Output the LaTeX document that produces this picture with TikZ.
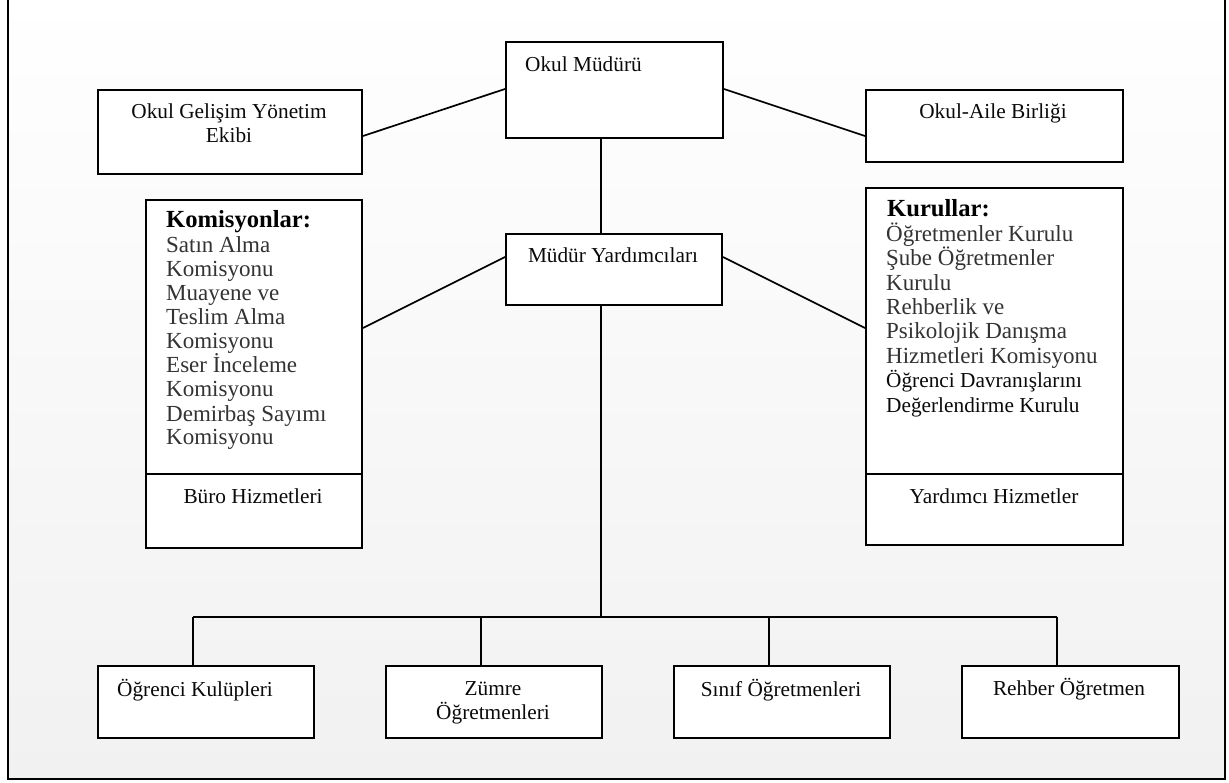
\documentclass[tikz,border=0pt]{standalone}
\usepackage{fontspec}
\setmainfont{Liberation Serif}
\usetikzlibrary{calc}
\definecolor{geogray}{HTML}{333333}
\definecolor{bglow}{HTML}{F1F1F1}
\definecolor{ink}{HTML}{0A0A0A}
\newcommand\tnrfont{\fontsize{21.3}{25}\selectfont}
\newcommand\georfont{\fontsize{23}{25}\selectfont}
\newcommand\geobfont{\fontsize{24.6}{27}\selectfont\bfseries}
\begin{document}
\begin{tikzpicture}[x=1pt,y=-1pt,
  box/.style={draw=black, line width=2pt, fill=white, inner sep=0pt, anchor=north west},
  link/.style={draw=black, line width=1.7pt},
  txt/.style={inner sep=0pt, font=\tnrfont, text=ink},
  gtxt/.style={inner sep=0pt, font=\georfont, text=geogray},
  gbold/.style={inner sep=0pt, font=\geobfont, text=black}]
\useasboundingbox (0,0) rectangle (1229,783);
% background and frame
\shade[top color=white, bottom color=bglow] (8,-10) rectangle (1225,779);
\draw[line width=2.4pt] (8,-10) -- (8,779) -- (1225,779) -- (1225,-10);

% boxes
\node[box, minimum width=217pt, minimum height=96pt] (om) at (505,41) {};
\node[box, minimum width=264pt, minimum height=84pt] (ogye) at (97,89) {};
\node[box, minimum width=257pt, minimum height=72pt] (oab) at (865,89) {};
\node[box, minimum width=216pt, minimum height=71pt] (my) at (505,233) {};
\node[box, minimum width=216pt, minimum height=274pt] (kom) at (145,199) {};
\node[box, minimum width=216pt, minimum height=74pt] (buro) at (145,473) {};
\node[box, minimum width=257pt, minimum height=286pt] (kur) at (865,187) {};
\node[box, minimum width=257pt, minimum height=71pt] (yh) at (865,473) {};
\node[box, minimum width=216pt, minimum height=72pt] (ok) at (97,665) {};
\node[box, minimum width=216pt, minimum height=72pt] (zo) at (385,665) {};
\node[box, minimum width=216pt, minimum height=72pt] (so) at (673,665) {};
\node[box, minimum width=217pt, minimum height=72pt] (ro) at (961,665) {};

% connector coordinates
\coordinate (tk) at (601,0);
\coordinate (bar) at (601,617);
\coordinate (d1) at (193,617);
\coordinate (d2) at (481,617);
\coordinate (d3) at (769,617);
\coordinate (d4) at (1057,617);

% connectors
\draw[link] ($(om.north west)+(0,48)$) -- ($(ogye.north east)+(0,47)$);
\draw[link] ($(om.north east)+(0,48)$) -- ($(oab.north west)+(0,47)$);
\draw[link] (om.south -| tk) -- (my.north -| tk);
\draw[link] ($(my.north west)+(0,24)$) -- ($(kom.north east)+(0,129)$);
\draw[link] ($(my.north east)+(0,24)$) -- ($(kur.north west)+(0,141)$);
\draw[link] (my.south -| tk) -- (bar);
\draw[link] (d1) -- (d4);
\draw[link] (d1) -- (ok.north -| d1);
\draw[link] (d2) -- (zo.north -| d2);
\draw[link] (d3) -- (so.north -| d3);
\draw[link] (d4) -- (ro.north -| d4);

% texts
\node[txt, anchor=base west] (tom) at (525,72) {Okul Müdürü};
\node[txt, anchor=base] (tg1) at (229,119) {Okul Gelişim Yönetim};
\node[txt, anchor=base] (tg2) at (229,143) {Ekibi};
\node[txt, anchor=base] (tab) at (993,119) {Okul-Aile Birliği};
\node[txt, anchor=base] (tmy) at (613,263) {Müdür Yardımcıları};
\node[txt, anchor=base] (tbu) at (253,503) {Büro Hizmetleri};
\node[txt, anchor=base] (tyh) at (994,503) {Yardımcı Hizmetler};
\node[txt, anchor=base west] (tok) at (117,696) {Öğrenci Kulüpleri};
\node[txt, anchor=base] (tz1) at (493,695) {Zümre};
\node[txt, anchor=base] (tz2) at (493,719) {Öğretmenleri};
\node[txt, anchor=base] (tso) at (781,696) {Sınıf Öğretmenleri};
\node[txt, anchor=base] (tro) at (1069,695) {Rehber Öğretmen};

% Komisyonlar list
\node[gbold, anchor=base west] (komt) at (166,228) {Komisyonlar:};
\foreach \t [count=\i] in {Satın Alma,Komisyonu,Muayene ve,Teslim Alma,Komisyonu,Eser İnceleme,Komisyonu,Demirbaş Sayımı,Komisyonu}
  \node[gtxt, anchor=base west] (kl\i) at (166,{229+24*\i}) {\t};

% Kurullar list
\node[gbold, anchor=base west] (kurt) at (887,217) {Kurullar:};
\foreach \t [count=\i] in {Öğretmenler Kurulu,Şube Öğretmenler,Kurulu,Rehberlik ve,Psikolojik Danışma,Hizmetleri Komisyonu}
  \node[gtxt, anchor=base west] (ku\i) at (886,{217+24.4*\i}) {\t};
\node[txt, anchor=base west] (ku7) at (886,387.8) {Öğrenci Davranışlarını};
\node[txt, anchor=base west] (ku8) at (886,412.2) {Değerlendirme Kurulu};
\end{tikzpicture}
\end{document}
